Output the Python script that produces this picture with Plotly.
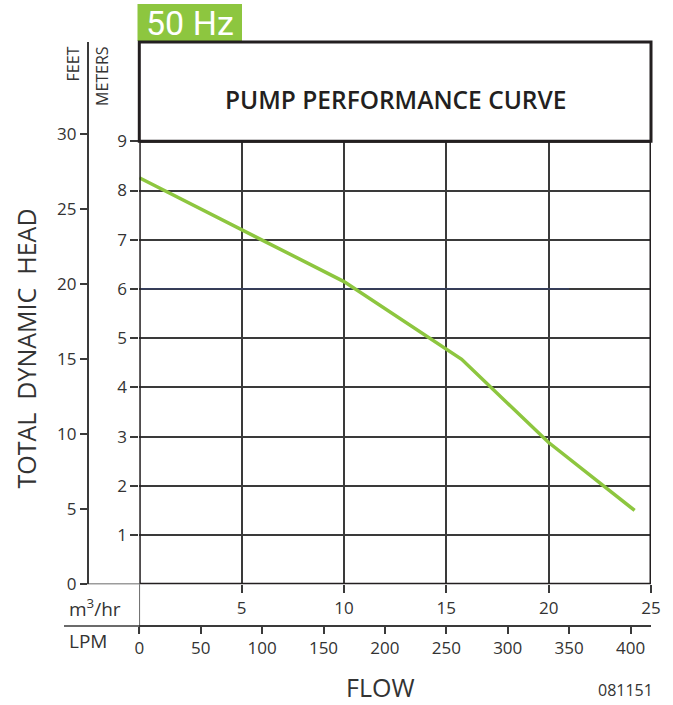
import plotly.graph_objects as go

# ---- data ----
flow_m3hr = [0, 5, 10, 15.75, 20, 24.2]
head_m = [8.26, 7.2, 6.15, 4.57, 2.88, 1.5]
ref_line_x = [0, 21]
ref_line_y = [6, 6]

m3hr_ticks = [5, 10, 15, 20, 25]
lpm_ticks = [0, 50, 100, 150, 200, 250, 300, 350, 400]
meter_ticks = [1, 2, 3, 4, 5, 6, 7, 8, 9]
feet_ticks = [0, 5, 10, 15, 20, 25, 30]

M_TO_FT = 1 / 0.3048
M3HR_TO_LPM = 1000 / 60

W, H = 673, 705
def px(x):
    return x / W
def py(y):
    return 1 - y / H

FONT = "Open Sans"
TXT = "#333333"
GRID = "#3a3a3a"
GREEN = "#8dc63f"
FRAME = "#231f20"

x_dom = [px(139.3), px(651)]
y_dom = [py(584.3), py(141.3)]
ft_top_px = 42
ft_dom = [py(584.3), py(ft_top_px)]
ft_range_top = 9 * M_TO_FT * (584.3 - ft_top_px) / (584.3 - 141.3)

fig = go.Figure()

fig.add_trace(go.Scatter(
    x=ref_line_x, y=ref_line_y, mode="lines",
    line=dict(color="#34406a", width=1.3), hoverinfo="skip", showlegend=False))

fig.add_trace(go.Scatter(
    x=flow_m3hr, y=head_m, mode="lines",
    line=dict(color=GREEN, width=3.5), showlegend=False))

# invisible traces to activate secondary axes
fig.add_trace(go.Scatter(
    x=flow_m3hr, y=[h * M_TO_FT for h in head_m], xaxis="x3", yaxis="y2",
    mode="lines", line=dict(color="rgba(0,0,0,0)"), hoverinfo="skip", showlegend=False))
fig.add_trace(go.Scatter(
    x=[f * M3HR_TO_LPM for f in flow_m3hr], y=head_m, xaxis="x2", yaxis="y",
    mode="lines", line=dict(color="rgba(0,0,0,0)"), hoverinfo="skip", showlegend=False))

tickfont = dict(family=FONT, size=17, color=TXT)

fig.update_layout(
    width=W, height=H,
    margin=dict(l=0, r=0, t=0, b=0, autoexpand=False),
    paper_bgcolor="white", plot_bgcolor="rgba(0,0,0,0)",
    xaxis=dict(domain=x_dom, range=[0, 25], tickvals=m3hr_ticks,
               ticks="outside", ticklen=8, tickwidth=1.5, tickcolor=GRID,
               showgrid=True, gridcolor=GRID, gridwidth=1.6,
               zeroline=False, showline=False, tickfont=tickfont,
               anchor="y", automargin=False),
    yaxis=dict(domain=y_dom, range=[0, 9], tickvals=meter_ticks,
               ticks="outside", ticklen=8, tickwidth=1.5, tickcolor=GRID,
               showgrid=True, gridcolor=GRID, gridwidth=1.6,
               zeroline=False, showline=False, tickfont=tickfont,
               anchor="x", automargin=False),
    yaxis2=dict(domain=ft_dom, range=[0, ft_range_top], tickvals=feet_ticks,
                anchor="free", position=px(87.7), side="left",
                ticks="outside", ticklen=7, tickwidth=1.5, tickcolor=GRID,
                showline=True, linecolor=GRID, linewidth=1.5,
                showgrid=False, zeroline=False, tickfont=tickfont,
                automargin=False),
    xaxis2=dict(domain=x_dom, range=[0, 25 * M3HR_TO_LPM], tickvals=lpm_ticks,
                anchor="free", position=py(626), side="bottom", overlaying="x",
                ticks="outside", ticklen=7, tickwidth=1.5, tickcolor=GRID,
                showline=True, linecolor=GRID, linewidth=1.5,
                showgrid=False, zeroline=False, tickfont=tickfont,
                automargin=False),
    xaxis3=dict(domain=x_dom, range=[0, 25], visible=False, showgrid=False,
                zeroline=False, anchor="y2", automargin=False),
)

shapes = []
# plot frame
shapes.append(dict(type="rect", xref="x", yref="y", x0=0, x1=25, y0=0, y1=9,
                   line=dict(color=FRAME, width=3), layer="above"))
# title box
shapes.append(dict(type="rect", xref="paper", yref="paper",
                   x0=x_dom[0], x1=x_dom[1], y0=y_dom[1], y1=py(42),
                   line=dict(color=FRAME, width=3)))
# 50 Hz badge
shapes.append(dict(type="rect", xref="paper", yref="paper",
                   x0=px(137.5), x1=px(242), y0=py(41), y1=py(4),
                   fillcolor=GREEN, line=dict(width=0), layer="below"))
# zero line from feet axis to plot
shapes.append(dict(type="line", xref="paper", yref="y",
                   x0=px(81), x1=x_dom[0], y0=0, y1=0,
                   line=dict(color=GRID, width=1.5)))
# vertical line at zero flow between the two flow axes
shapes.append(dict(type="line", xref="x", yref="paper",
                   x0=0, x1=0, y0=py(633), y1=py(584.3),
                   line=dict(color=GRID, width=1.5)))
# LPM axis line extension to the left
shapes.append(dict(type="line", xref="paper", yref="paper",
                   x0=px(64), x1=x_dom[0], y0=py(626), y1=py(626),
                   line=dict(color=GRID, width=1.5)))
fig.update_layout(shapes=shapes)

ann = []
ann.append(dict(text="50 Hz", xref="paper", yref="paper", x=px(190), y=py(23),
                showarrow=False, font=dict(family="Roboto", size=34, color="white"),
                xanchor="center", yanchor="middle"))
ann.append(dict(text="PUMP PERFORMANCE CURVE", xref="paper", yref="paper",
                x=px(395), y=py(100), showarrow=False,
                font=dict(family=FONT, size=24.5, color=FRAME, weight=600),
                xanchor="center", yanchor="middle"))
ann.append(dict(text="FEET", xref="paper", yref="paper", x=px(72.5), y=py(64),
                textangle=-90, showarrow=False,
                font=dict(family=FONT, size=16, color=TXT),
                xanchor="center", yanchor="middle"))
ann.append(dict(text="METERS", xref="paper", yref="paper", x=px(101.5), y=py(76.5),
                textangle=-90, showarrow=False,
                font=dict(family=FONT, size=16, color=TXT),
                xanchor="center", yanchor="middle"))
ann.append(dict(text="TOTAL  DYNAMIC  HEAD", xref="paper", yref="paper",
                x=px(25.5), y=py(349), textangle=-90, showarrow=False,
                font=dict(family=FONT, size=25, color=TXT),
                xanchor="center", yanchor="middle"))
ann.append(dict(text="m<sup>3</sup>/hr", xref="paper", yref="paper",
                x=px(67), y=py(608), showarrow=False,
                font=dict(family=FONT, size=19, color=TXT),
                xanchor="left", yanchor="middle"))
ann.append(dict(text="LPM", xref="paper", yref="paper",
                x=px(67), y=py(641), showarrow=False,
                font=dict(family=FONT, size=19, color=TXT),
                xanchor="left", yanchor="middle"))
ann.append(dict(text="FLOW", xref="paper", yref="paper",
                x=px(380), y=py(687), showarrow=False,
                font=dict(family=FONT, size=25, color=TXT),
                xanchor="center", yanchor="middle"))
ann.append(dict(text="081151", xref="paper", yref="paper",
                x=px(625), y=py(690), showarrow=False,
                font=dict(family=FONT, size=16, color=TXT),
                xanchor="center", yanchor="middle"))
fig.update_layout(annotations=ann)

fig.write_html("out.html",
               config={"displayModeBar": False},
               post_script="document.body.style.margin='0px';"
                           "document.body.style.overflow='hidden';")
